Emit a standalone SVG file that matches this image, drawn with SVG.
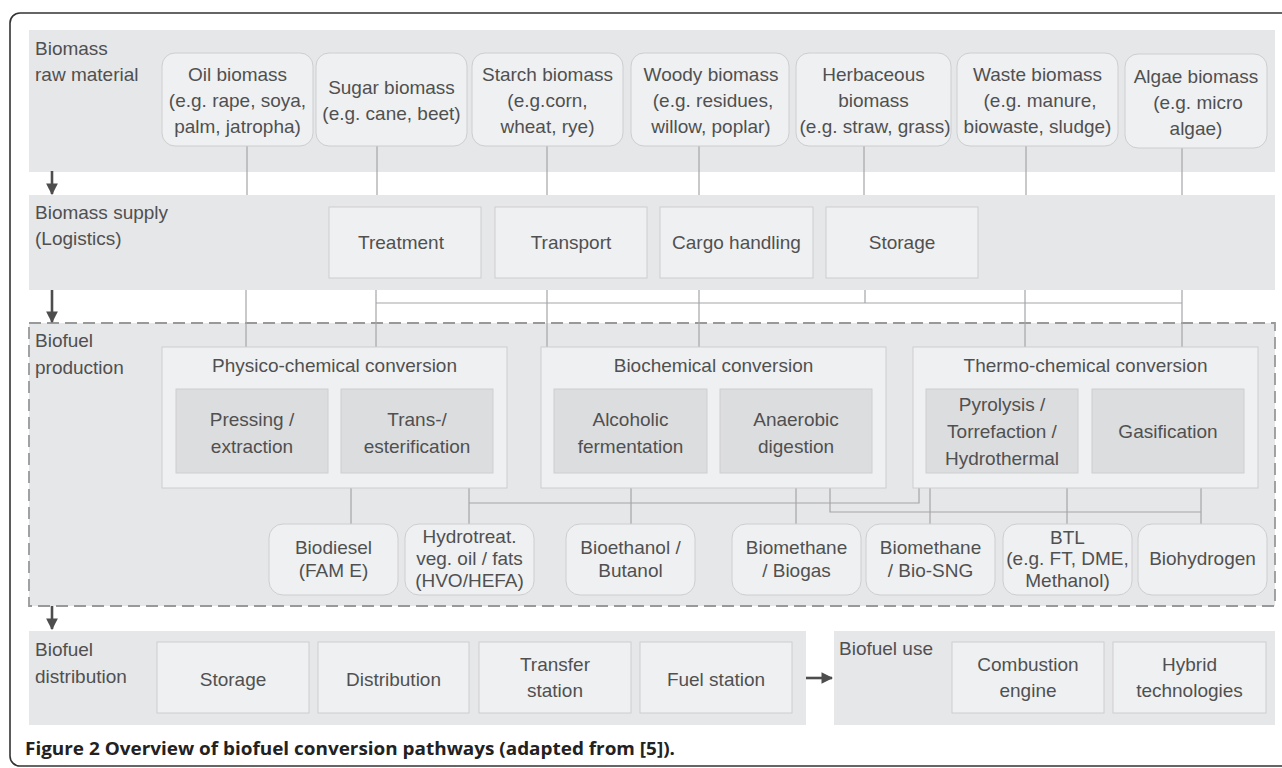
<svg xmlns="http://www.w3.org/2000/svg" width="1282" height="768" viewBox="0 0 1282 768">
<defs>
<style>
.band{fill:#e6e7e9;}
.box{fill:#eff0f2;stroke:#cdced0;stroke-width:1;}
.inner{fill:#dcdddf;stroke:#cdced0;stroke-width:1;}
.t{font-family:"Liberation Sans",Arial,sans-serif;font-size:19px;fill:#505050;}
.c{text-anchor:middle;}
.ln{stroke:#a5a6a8;stroke-width:1.2;fill:none;}
.arr{stroke:#4d4d4d;stroke-width:2.6;fill:none;}
</style>
<marker id="ah" viewBox="0 0 10 10" refX="9" refY="5" markerWidth="4.5" markerHeight="4.5" orient="auto" markerUnits="strokeWidth">
<path d="M0,0 L10,5 L0,10 Z" fill="#4d4d4d"/>
</marker>
</defs>
<rect x="0" y="0" width="1282" height="768" fill="#ffffff"/>
<rect x="10" y="13" width="1400" height="753" rx="10" fill="none" stroke="#333333" stroke-width="1.6"/>

<!-- bands -->
<rect class="band" x="29" y="30" width="1246" height="142"/>
<rect x="29" y="323" width="1246" height="283" fill="#e6e7e9" stroke="#999999" stroke-width="1.8" stroke-dasharray="12 6"/>

<!-- connectors -->
<g id="connectors">
<path class="ln" d="M247,146V195 M377,146V195 M547,146V195 M699,146V195 M864,146V195 M1026,146V195 M1182,148V195"/>
<path class="ln" d="M246,290V347 M376,290V347 M547,290V347 M699,290V347 M865,290V303 M1025,290V347 M1182,290V347 M376,303H1182"/>
<path class="ln" d="M328,432H341 M707,432H720 M1078,432H1092"/>
<path class="ln" d="M351,473V524 M469,488V524 M469,503H919V488 M631,473V524 M796,473V524 M830,488V512H1201 M1201,488V524 M930,488V524 M1067,488V524"/>
<line class="arr" x1="52" y1="171" x2="52" y2="194" marker-end="url(#ah)"/>
<line class="arr" x1="52" y1="290" x2="52" y2="322" marker-end="url(#ah)"/>
<line class="arr" x1="52" y1="606" x2="52" y2="629" marker-end="url(#ah)"/>
<line class="arr" x1="804" y1="678" x2="832" y2="678" marker-end="url(#ah)"/>
</g>

<rect class="band" x="29" y="195" width="1246" height="95"/>

<!-- raw material -->
<g id="raw-label"><text class="t" x="35" y="55">Biomass</text><text class="t" x="35" y="81">raw material</text></g>
<g id="oil"><rect class="box" x="162" y="53" width="151" height="93" rx="13"/><text class="t c" x="237.5" y="81">Oil biomass</text><text class="t c" x="237.5" y="107">(e.g. rape, soya,</text><text class="t c" x="237.5" y="133">palm, jatropha)</text></g>
<g id="sugar"><rect class="box" x="316" y="53" width="151" height="93" rx="13"/><text class="t c" x="391.5" y="94">Sugar biomass</text><text class="t c" x="391.5" y="120">(e.g. cane, beet)</text></g>
<g id="starch"><rect class="box" x="472" y="53" width="151" height="93" rx="13"/><text class="t c" x="547.5" y="81">Starch biomass</text><text class="t c" x="547.5" y="107">(e.g.corn,</text><text class="t c" x="547.5" y="133">wheat, rye)</text></g>
<g id="woody"><rect class="box" x="631" y="53" width="158" height="93" rx="13"/><text class="t c" x="711" y="81">Woody biomass</text><text class="t c" x="713" y="107">(e.g. residues,</text><text class="t c" x="711" y="133">willow, poplar)</text></g>
<g id="herbaceous"><rect class="box" x="796" y="53" width="155" height="93" rx="13"/><text class="t c" x="873.5" y="81">Herbaceous</text><text class="t c" x="873.5" y="107">biomass</text><text class="t c" x="875" y="133">(e.g. straw, grass)</text></g>
<g id="waste"><rect class="box" x="957" y="53" width="161" height="93" rx="13"/><text class="t c" x="1037.5" y="81">Waste biomass</text><text class="t c" x="1040" y="107">(e.g. manure,</text><text class="t c" x="1037.5" y="133">biowaste, sludge)</text></g>
<g id="algae"><rect class="box" x="1125" y="54" width="142" height="94" rx="13"/><text class="t c" x="1196" y="83">Algae biomass</text><text class="t c" x="1198" y="109">(e.g. micro</text><text class="t c" x="1196" y="135">algae)</text></g>

<!-- supply -->
<g id="supply-label"><text class="t" x="35" y="219">Biomass supply</text><text class="t" x="35" y="245">(Logistics)</text></g>
<g id="treatment"><rect class="box" x="329" y="207" width="152" height="71"/><text class="t c" x="401" y="249">Treatment</text></g>
<g id="transport"><rect class="box" x="495" y="207" width="152" height="71"/><text class="t c" x="571" y="249">Transport</text></g>
<g id="cargo"><rect class="box" x="660" y="207" width="153" height="71"/><text class="t c" x="736.5" y="249">Cargo handling</text></g>
<g id="storage1"><rect class="box" x="826" y="207" width="152" height="71"/><text class="t c" x="902" y="249">Storage</text></g>

<!-- production -->
<g id="prod-label"><text class="t" x="35" y="347">Biofuel</text><text class="t" x="35" y="374">production</text></g>
<g id="physico"><rect class="box" x="162" y="347" width="345" height="141"/><text class="t c" x="334.5" y="372">Physico-chemical conversion</text></g>
<g id="pressing"><rect class="inner" x="176" y="389" width="152" height="84"/><text class="t c" x="252" y="426">Pressing /</text><text class="t c" x="252" y="453">extraction</text></g>
<g id="transester"><rect class="inner" x="341" y="389" width="152" height="84"/><text class="t c" x="417" y="426">Trans-/</text><text class="t c" x="417" y="453">esterification</text></g>
<g id="biochemical"><rect class="box" x="541" y="347" width="345" height="141"/><text class="t c" x="713.5" y="372">Biochemical conversion</text></g>
<g id="alcoholic"><rect class="inner" x="554" y="389" width="153" height="84"/><text class="t c" x="630.5" y="426">Alcoholic</text><text class="t c" x="630.5" y="453">fermentation</text></g>
<g id="anaerobic"><rect class="inner" x="720" y="389" width="152" height="84"/><text class="t c" x="796" y="426">Anaerobic</text><text class="t c" x="796" y="453">digestion</text></g>
<g id="thermo"><rect class="box" x="913" y="347" width="345" height="141"/><text class="t c" x="1085.5" y="372">Thermo-chemical conversion</text></g>
<g id="pyrolysis"><rect class="inner" x="926" y="389" width="152" height="84"/><text class="t c" x="1002" y="411">Pyrolysis /</text><text class="t c" x="1002" y="438">Torrefaction /</text><text class="t c" x="1002" y="465">Hydrothermal</text></g>
<g id="gasification"><rect class="inner" x="1092" y="389" width="152" height="84"/><text class="t c" x="1168" y="438">Gasification</text></g>

<g id="biodiesel"><rect class="box" x="269" y="524" width="129" height="71" rx="14"/><text class="t c" x="333.5" y="554">Biodiesel</text><text class="t c" x="333.5" y="577">(FAM E)</text></g>
<g id="hvo"><rect class="box" x="405" y="524" width="129" height="71" rx="14"/><text class="t c" x="469.5" y="543">Hydrotreat.</text><text class="t c" x="469.5" y="565">veg. oil / fats</text><text class="t c" x="469.5" y="587">(HVO/HEFA)</text></g>
<g id="bioethanol"><rect class="box" x="566" y="524" width="129" height="71" rx="14"/><text class="t c" x="630.5" y="554">Bioethanol /</text><text class="t c" x="630.5" y="577">Butanol</text></g>
<g id="biogas"><rect class="box" x="732" y="524" width="129" height="71" rx="14"/><text class="t c" x="796.5" y="554">Biomethane</text><text class="t c" x="796.5" y="577">/ Biogas</text></g>
<g id="biosng"><rect class="box" x="866" y="524" width="129" height="71" rx="14"/><text class="t c" x="930.5" y="554">Biomethane</text><text class="t c" x="930.5" y="577">/ Bio-SNG</text></g>
<g id="btl"><rect class="box" x="1003" y="524" width="129" height="71" rx="14"/><text class="t c" x="1067.5" y="544">BTL</text><text class="t c" x="1067.5" y="565">(e.g. FT, DME,</text><text class="t c" x="1067.5" y="587">Methanol)</text></g>
<g id="biohydrogen"><rect class="box" x="1138" y="524" width="129" height="71" rx="14"/><text class="t c" x="1202.5" y="565">Biohydrogen</text></g>

<!-- distribution -->
<rect class="band" x="29" y="631" width="777" height="94"/>
<g id="dist-label"><text class="t" x="35" y="656">Biofuel</text><text class="t" x="35" y="683">distribution</text></g>
<g id="storage2"><rect class="box" x="157" y="642" width="152" height="71"/><text class="t c" x="233" y="686">Storage</text></g>
<g id="distribution"><rect class="box" x="318" y="642" width="151" height="71"/><text class="t c" x="393.5" y="686">Distribution</text></g>
<g id="transfer"><rect class="box" x="479" y="642" width="152" height="71"/><text class="t c" x="555" y="671">Transfer</text><text class="t c" x="555" y="697">station</text></g>
<g id="fuelstation"><rect class="box" x="640" y="642" width="152" height="71"/><text class="t c" x="716" y="686">Fuel station</text></g>

<!-- use -->
<rect class="band" x="834" y="631" width="441" height="94"/>
<g id="use-label"><text class="t" x="839" y="655">Biofuel use</text></g>
<g id="combustion"><rect class="box" x="952" y="642" width="152" height="71"/><text class="t c" x="1028" y="671">Combustion</text><text class="t c" x="1028" y="697">engine</text></g>
<g id="hybrid"><rect class="box" x="1113" y="642" width="153" height="71"/><text class="t c" x="1189.5" y="671">Hybrid</text><text class="t c" x="1189.5" y="697">technologies</text></g>

<text x="25" y="755" font-family="'Open Sans','DejaVu Sans',sans-serif" font-weight="700" font-size="17" fill="#222222" textLength="650" lengthAdjust="spacingAndGlyphs">Figure 2 Overview of biofuel conversion pathways (adapted from [5]).</text>
</svg>
